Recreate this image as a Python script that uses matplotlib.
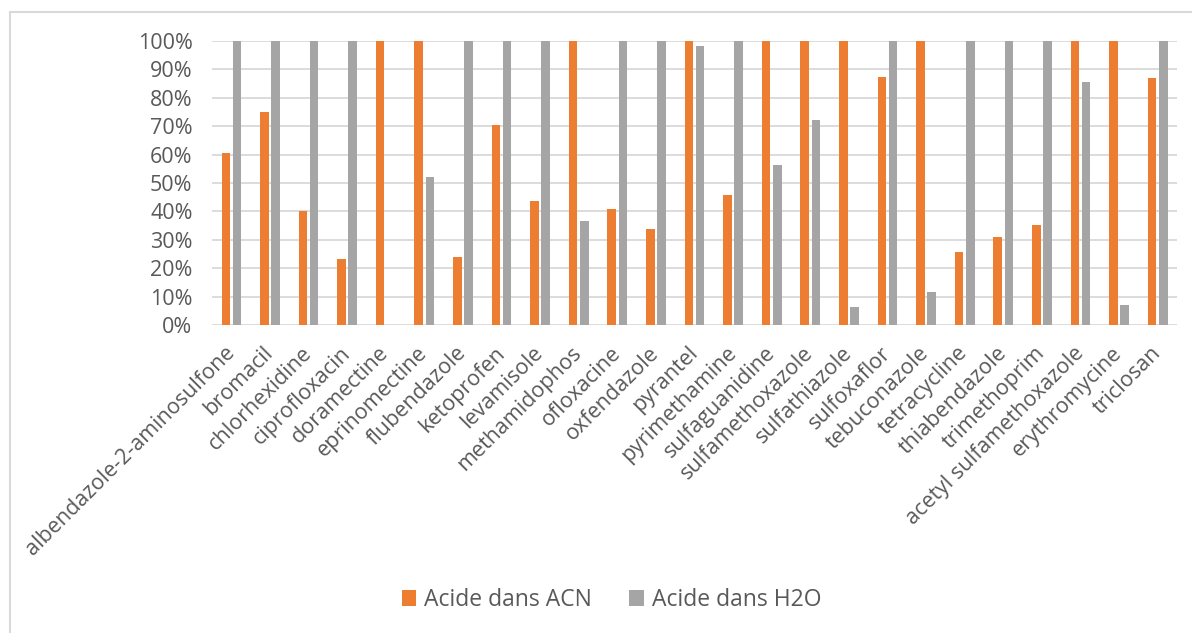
import matplotlib.pyplot as plt
from matplotlib.lines import Line2D
from matplotlib.ticker import FuncFormatter

plt.rcParams['font.family'] = ['Open Sans', 'DejaVu Sans']

composes = ['albendazole-2-aminosulfone', 'bromacil', 'chlorhexidine', 'ciprofloxacin',
            'doramectine', 'eprinomectine', 'flubendazole', 'ketoprofen', 'levamisole',
            'methamidophos', 'ofloxacine', 'oxfendazole', 'pyrantel', 'pyrimethamine',
            'sulfaguanidine', 'sulfamethoxazole', 'sulfathiazole', 'sulfoxaflor',
            'tebuconazole', 'tetracycline', 'thiabendazole', 'trimethoprim',
            'acetyl sulfamethoxazole', 'erythromycine', 'triclosan']

acide_acn = [0.607, 0.751, 0.403, 0.231, 1.0, 1.0, 0.238, 0.704, 0.437,
             1.0, 0.407, 0.338, 1.0, 0.458, 1.0, 1.0, 1.0, 0.874,
             1.0, 0.258, 0.311, 0.353, 1.0, 1.0, 0.871]

acide_h2o = [1.0, 1.0, 1.0, 1.0, 0.0, 0.521, 1.0, 1.0, 1.0,
             0.366, 1.0, 1.0, 0.984, 1.0, 0.562, 0.721, 0.062, 1.0,
             0.116, 1.0, 1.0, 1.0, 0.857, 0.070, 1.0]

orange = '#ED7D31'
gris = '#A5A5A5'
texte = '#595959'

fig = plt.figure(figsize=(11.92, 6.33), dpi=100)
ax = fig.add_axes([0.1779, 0.4866, 0.8095, 0.4486])

x = range(len(composes))
w = 0.22
ax.bar([i - 0.145 for i in x], acide_acn, width=w, color=orange, label='Acide dans ACN', zorder=3)
ax.bar([i + 0.145 for i in x], acide_h2o, width=w, color=gris, label='Acide dans H2O', zorder=3)

ax.set_xlim(-0.5, len(composes) - 0.5)
ax.set_ylim(0, 1.0)
ax.set_yticks([i / 10 for i in range(11)])
ax.yaxis.set_major_formatter(FuncFormatter(lambda v, p: '%d%%' % round(v * 100)))
ax.yaxis.grid(True, color='#D9D9D9', linewidth=1.3, zorder=0)
ax.set_axisbelow(True)
for s in ax.spines.values():
    s.set_visible(False)
ax.tick_params(axis='both', length=0, colors=texte)
ax.tick_params(axis='y', pad=14, labelsize=15.5)

ax.set_xticks(list(x))
ax.set_xticklabels(composes, rotation=45, ha='right', va='center',
                   rotation_mode='anchor', fontsize=15.5)
ax.tick_params(axis='x', pad=18)

# cadre du graphique
fig.add_artist(Line2D([0.0084, 1.0], [0.981, 0.981], color='#D9D9D9', lw=1.5))
fig.add_artist(Line2D([0.0084, 0.0084], [0.0, 0.981], color='#D9D9D9', lw=1.5))

fig.legend(loc='center', bbox_to_anchor=(0.513, 0.052), ncol=2, frameon=False,
           fontsize=16.5, labelcolor=texte, handlelength=0.65, handleheight=0.65,
           handletextpad=0.35, columnspacing=1.6)

fig.savefig('out.png', dpi=100)
